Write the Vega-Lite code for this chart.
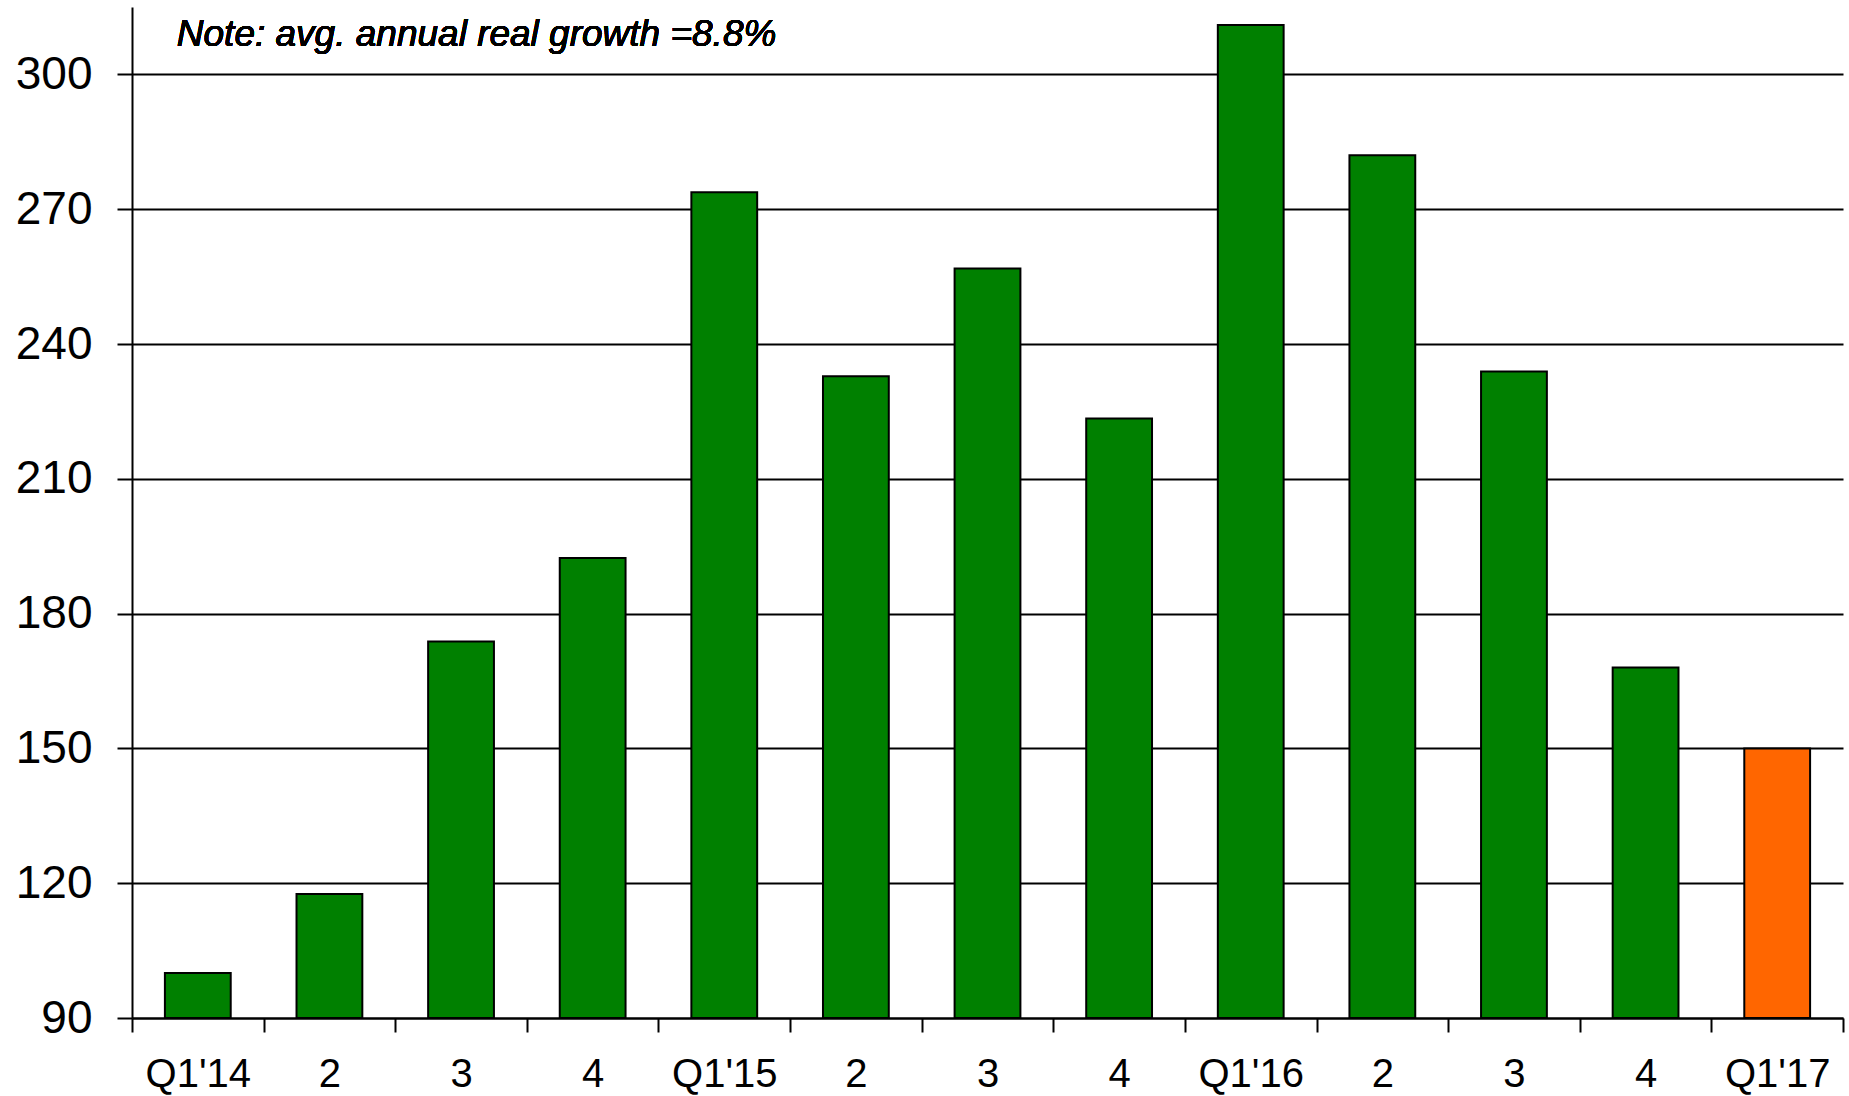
{
  "$schema": "https://vega.github.io/schema/vega-lite/v6.json",
  "width": 1711,
  "height": 1011,
  "autosize": {"type": "none"},
  "padding": {"left": 132, "top": 7, "right": 6, "bottom": 78},
  "background": "white",
  "config": {
    "view": {"stroke": null},
    "font": "Liberation Sans"
  },
  "data": {
    "values": [
      {"q": "Q1'14", "v": 100, "kind": "actual"},
      {"q": "2 ", "v": 117.6, "kind": "actual"},
      {"q": "3 ", "v": 173.8, "kind": "actual"},
      {"q": "4 ", "v": 192.4, "kind": "actual"},
      {"q": "Q1'15", "v": 273.8, "kind": "actual"},
      {"q": "2  ", "v": 232.8, "kind": "actual"},
      {"q": "3  ", "v": 256.8, "kind": "actual"},
      {"q": "4  ", "v": 223.4, "kind": "actual"},
      {"q": "Q1'16", "v": 311, "kind": "actual"},
      {"q": "2   ", "v": 282, "kind": "actual"},
      {"q": "3   ", "v": 233.9, "kind": "actual"},
      {"q": "4   ", "v": 168, "kind": "actual"},
      {"q": "Q1'17", "v": 150, "kind": "latest"}
    ]
  },
  "layer": [
    {
      "mark": {"type": "bar", "stroke": "black", "strokeWidth": 2, "clip": true, "width": {"band": 0.5}},
      "encoding": {
        "x": {
          "field": "q", "type": "nominal", "sort": null,
          "scale": {"paddingInner": 0, "paddingOuter": 0},
          "axis": {
            "title": null, "labelAngle": 0, "tickBand": "extent",
            "domainColor": "black", "domainWidth": 2,
            "tickColor": "black", "tickWidth": 2, "tickSize": 14,
            "labelFontSize": 40, "labelColor": "black", "labelPadding": 22,
            "labelBaseline": "top", "grid": false
          }
        },
        "y": {
          "field": "v", "type": "quantitative",
          "scale": {"domain": [90, 315], "nice": false, "zero": false},
          "axis": {
            "title": null, "values": [90, 120, 150, 180, 210, 240, 270, 300],
            "grid": true, "gridColor": "black", "gridWidth": 2, "gridOpacity": 1,
            "domainColor": "black", "domainWidth": 2,
            "tickColor": "black", "tickWidth": 2, "tickSize": 15,
            "labelFontSize": 46, "labelColor": "black", "labelPadding": 25
          }
        },
        "y2": {"datum": 90},
        "color": {
          "field": "kind", "type": "nominal",
          "scale": {"domain": ["actual", "latest"], "range": ["#008000", "#FF6600"]},
          "legend": null
        }
      }
    },
    {
      "mark": {
        "type": "text", "align": "left", "baseline": "alphabetic",
        "fontStyle": "italic", "fontSize": 37, "color": "black", "dx": -21
      },
      "encoding": {
        "x": {"datum": "Q1'14", "type": "nominal"},
        "y": {"datum": 306.3, "type": "quantitative"},
        "text": {"value": "Note: avg. annual real growth =8.8%"}
      }
    }
  ]
}
